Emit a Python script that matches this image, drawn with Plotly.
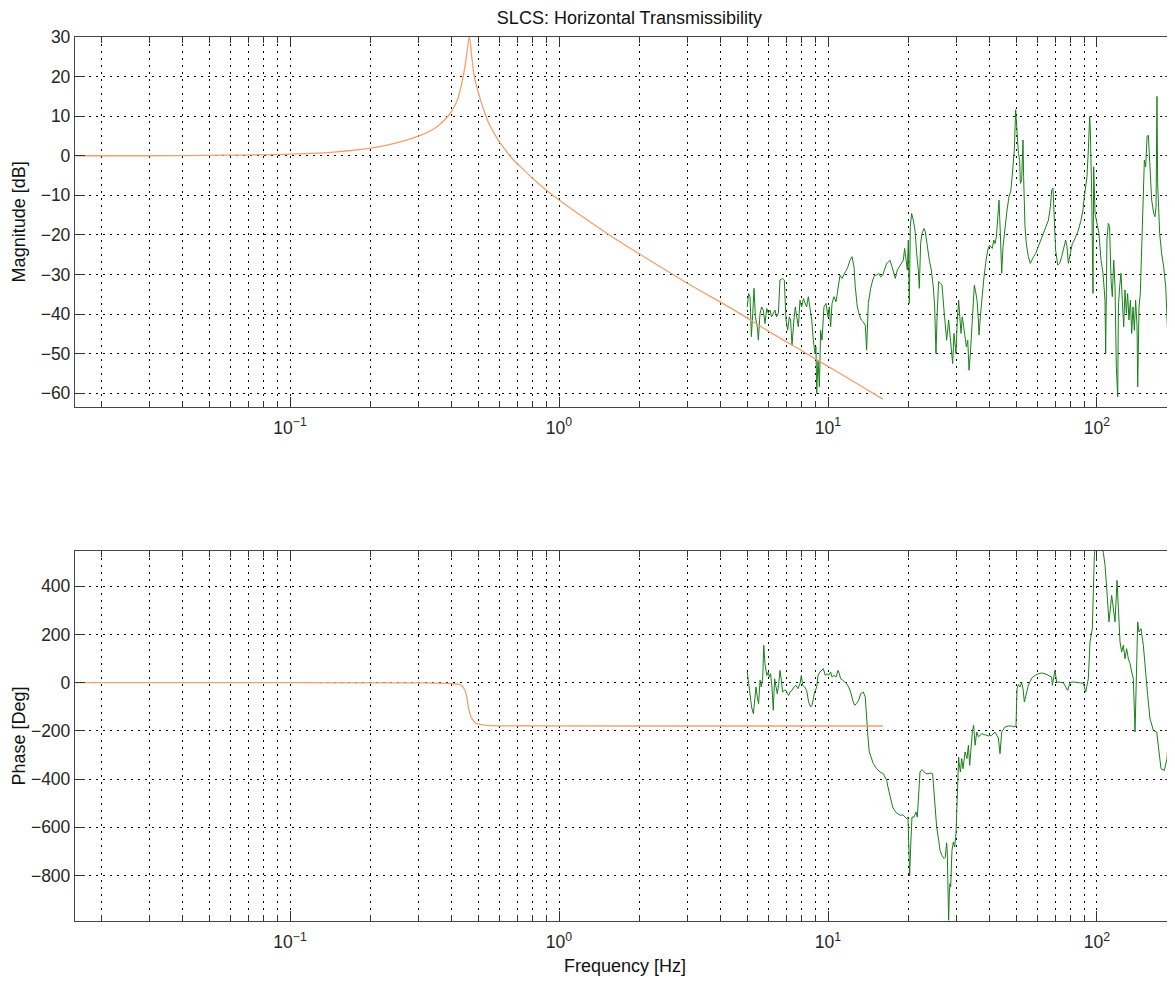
import plotly.graph_objects as go

# ---------------- data ----------------
# Model (orange) magnitude
model_mag_freq = [0.016, 0.03, 0.05, 0.1, 0.15, 0.216, 0.302, 0.35, 0.388, 0.405, 0.42,
                  0.435, 0.447, 0.456, 0.464, 0.474, 0.484, 0.508, 0.535, 0.55, 0.595, 0.62,
                  0.676, 0.7, 0.803, 0.9, 1.0, 1.5, 2.0, 3.0, 4.4, 6.0, 8.0, 10.0, 12.0, 16.0]
model_mag_db = [0.0, 0.0, 0.1, 0.4, 1.0, 2.3, 5.0, 7.2, 10.1, 12.0, 14.3,
                18.3, 22.5, 26.7, 30.0, 25.0, 20.1, 14.6, 10.0, 8.0, 3.9, 2.2,
                -1.0, -2.0, -5.9, -8.8, -11.2, -19.5, -24.9, -32.2, -38.7, -44.3, -49.3, -53.2, -56.4, -61.5]

# Model (orange) phase
model_ph_freq = [0.016, 0.1, 0.2, 0.3, 0.38, 0.42, 0.435, 0.447, 0.455, 0.46, 0.467,
                 0.474, 0.485, 0.494, 0.52, 0.554, 0.8, 2.0, 16.0]
model_ph_deg = [0, -0.3, -0.6, -1, -3, -6, -12, -32, -65, -101, -130,
                -149, -163, -170, -175, -178, -179, -180, -180]

# Measured (green) magnitude
meas_mag_freq = [5.01, 5.07, 5.13, 5.19, 5.25, 5.31, 5.37, 5.46, 5.51, 5.59, 5.67, 5.75, 5.83,
                 5.92, 6.00, 6.09, 6.17, 6.26, 6.35, 6.44, 6.54, 6.63, 6.78, 6.88, 6.98, 7.08,
                 7.18, 7.26, 7.35, 7.47, 7.56, 7.65, 7.76, 7.87, 7.98, 8.10, 8.21, 8.33, 8.45,
                 8.57, 8.70, 8.82, 8.95, 9.02, 9.08, 9.18, 9.29, 9.39, 9.50, 9.66, 9.83, 10.0,
                 10.11, 10.23, 10.35, 10.53, 10.71, 10.83, 10.96, 11.08, 11.27, 11.40, 11.60,
                 11.80, 12.07, 12.28, 12.49, 12.63, 12.85, 13.08, 13.30, 13.53, 13.76, 13.92,
                 14.12, 14.41, 14.66, 14.91, 15.17, 15.43, 15.69, 15.97, 16.24, 16.52, 16.81,
                 17.00, 17.29, 17.59, 17.79, 18.10, 18.41, 18.73, 19.06, 19.27, 19.49, 19.72,
                 19.89, 20.06, 20.23, 20.46, 20.76, 21.06, 21.36, 21.67, 21.85, 22.10, 22.36,
                 22.74, 23.00, 23.40, 23.81, 24.22, 24.63, 24.92, 25.20, 25.49, 25.79, 26.23,
                 26.53, 26.99, 27.30, 27.61, 28.09, 28.41, 28.74, 29.07, 29.40, 29.91, 30.25,
                 30.60, 31.22, 31.56, 31.94, 32.32, 32.70, 33.08, 33.45, 33.83, 34.21, 34.60,
                 35.00, 35.40, 35.81, 36.23, 36.43, 36.84, 37.30, 37.91, 38.56, 39.23, 39.88,
                 40.38, 40.82, 41.33, 41.77, 42.27, 42.71, 43.22, 43.72, 44.23, 44.73, 45.49,
                 46.31, 47.06, 47.88, 48.70, 49.28, 49.85, 50.43, 51.03, 51.60, 51.89, 52.48,
                 53.08, 53.36, 53.99, 54.62, 55.57, 56.52, 57.20, 58.16, 59.16, 60.54, 61.93,
                 63.38, 64.83, 65.96, 67.10, 67.85, 68.61, 69.43, 70.18, 71.44, 72.64, 73.90,
                 75.16, 76.48, 77.36, 78.25, 79.57, 80.96, 82.40, 83.79, 85.24, 87.19, 88.70,
                 89.71, 90.78, 91.79, 92.86, 93.93, 94.44, 95.57, 96.64, 97.21, 98.34, 100.0,
                 101.7, 103.5, 105.3, 107.1, 107.7, 108.9, 110.2, 111.4, 112.8, 114.0, 115.4,
                 116.7, 118.0, 119.4, 120.1, 121.4, 122.8, 124.2, 125.7, 127.1, 128.6, 130.0,
                 131.5, 133.1, 134.6, 136.1, 137.7, 139.2, 140.9, 141.7, 143.3, 144.9, 146.6,
                 148.3, 150.0, 151.7, 153.5, 155.2, 157.0, 159.7, 162.5, 164.3, 165.8, 167.1,
                 168.1, 171.0, 173.9, 177.0, 180.1, 182.1, 184.2, 186.3, 189.5, 192.8, 195.0]
meas_mag_db = [-38.2, -34.8, -35.6, -45.7, -39.8, -33.5, -40.7, -43.2, -46.6, -39.8, -38.2, -39.0, -42.4,
               -38.6, -39.8, -39.0, -40.7, -39.8, -39.0, -40.7, -39.8, -31.4, -31.0, -31.4, -41.5, -44.1,
               -40.7, -41.5, -47.9, -41.5, -38.2, -40.7, -43.2, -36.5, -38.2, -36.1, -37.3, -38.2, -35.6,
               -38.2, -41.5, -46.6, -50.0, -48.3, -60.1, -51.6, -58.4, -44.1, -46.6, -38.2, -37.3, -40.7,
               -38.2, -43.2, -37.3, -35.6, -36.9, -34.8, -32.3, -30.2, -31.0, -30.2, -29.3,
               -28.5, -26.4, -25.5, -28.0, -33.1, -38.2, -40.3, -41.5, -42.0, -42.8, -49.1,
               -37.3, -33.5, -31.4, -30.2, -30.2, -29.7, -30.6, -30.2, -28.5, -27.2, -26.8,
               -26.4, -28.0, -29.7, -31.0, -28.9, -28.0, -27.2, -26.4, -23.4, -26.4, -28.9,
               -21.3, -37.3, -17.9, -14.6, -16.3, -18.8, -24.7, -28.9, -33.5, -22.1, -19.6,
               -18.4, -19.2, -23.0, -26.4, -28.9, -33.1, -38.2, -50.0, -39.0, -31.8, -32.3,
               -32.7, -39.0, -42.4, -46.6, -41.5, -45.7, -48.3, -52.5, -44.9, -50.0, -41.5,
               -36.5, -44.9, -40.7, -43.2, -46.6, -48.3, -46.6, -54.2, -49.9, -44.9, -38.2,
               -32.7, -34.4, -36.5, -41.5, -45.3, -40.7, -35.6, -31.4, -27.2, -23.8, -22.6,
               -23.0, -23.4, -21.3, -22.2, -20.5, -16.3, -11.2, -19.6, -29.7, -23.0, -17.9,
               -13.7, -10.4, -8.7, -2.8, 1.4, 11.6, 5.7, 0.6, -1.1, -7.0, -6.1,
               4.0, -5.3, -17.9, -22.2, -25.5, -27.2, -26.4, -25.5, -24.7, -23.0, -21.3,
               -19.2, -17.9, -16.3, -12.9, -8.7, -8.2, -19.6, -23.8, -27.6, -27.2, -25.5,
               -23.0, -21.3, -23.0, -27.2, -24.7, -22.2, -21.3, -20.0, -18.8, -16.3, -13.7,
               -10.4, -7.0, -5.3, 1.4, 9.9, 6.5, -9.5, -34.8, -2.8, -14.6, -17.1,
               -19.6, -26.4, -29.7, -36.5, -49.9, -21.3, -17.1, -17.9, -31.4, -35.6, -26.4,
               -33.1, -53.3, -60.9, -38.2, -33.1, -29.7, -36.5, -43.2, -33.9, -39.8, -34.8,
               -41.5, -36.5, -44.9, -38.2, -44.1, -36.5, -43.2, -58.4, -38.2, -34.8, -24.7,
               -15.4, -1.1, -2.8, 4.8, 5.2, -2.8, -11.2, -14.6, -15.4, -12.9, 15.0,
               -7.0, -19.6, -24.7, -28.1, -33.1, -40.7, -49.1, -49.9, -48.3, -49.9, -60.1]

# Measured (green) phase
meas_ph_freq = [5.01, 5.07, 5.13, 5.20, 5.28, 5.34, 5.40, 5.46, 5.52, 5.59, 5.65, 5.72, 5.77, 5.83,
                5.92, 6.00, 6.05, 6.12, 6.19, 6.26, 6.33, 6.41, 6.48, 6.56, 6.63, 6.71, 6.78, 6.88,
                6.98, 7.06, 7.14, 7.22, 7.35, 7.47, 7.60, 7.73, 7.87, 7.96, 8.05, 8.19, 8.33, 8.47,
                8.62, 8.72, 8.82, 8.92, 9.08, 9.18, 9.34, 9.50, 9.61, 9.77, 9.94, 10.06, 10.23,
                10.35, 10.53, 10.71, 10.89, 11.02, 11.14, 11.34, 11.53, 11.73, 11.93, 12.14, 12.35,
                12.56, 12.78, 13.00, 13.23, 13.53, 13.76, 13.92, 14.08, 14.24, 14.49, 14.74, 15.17,
                15.61, 16.06, 16.34, 16.52, 16.71, 16.90, 17.10, 17.39, 17.69, 18.00, 18.31, 18.63,
                18.95, 19.27, 19.61, 19.83, 20.00, 20.12, 20.29, 20.52, 20.88, 21.24, 21.48, 21.73,
                21.98, 22.36, 22.74, 23.14, 23.54, 24.08, 24.49, 24.78, 25.06, 25.35, 25.79, 26.08,
                26.53, 26.99, 27.30, 27.61, 27.77, 27.93, 28.09, 28.25, 28.41, 28.58, 28.74, 28.90,
                29.24, 29.57, 29.91, 30.25, 30.60, 30.69, 31.05, 31.40, 31.76, 32.32, 32.87, 33.26,
                33.64, 34.02, 34.40, 34.78, 35.22, 35.72, 36.23, 37.30, 38.37, 39.44, 40.57, 41.77,
                42.98, 43.60, 44.23, 45.49, 46.82, 48.20, 49.58, 50.00, 50.43, 51.03, 51.72, 52.48,
                53.08, 53.69, 54.81, 55.57, 57.20, 58.84, 60.54, 62.28, 64.09, 65.96, 67.85, 68.23,
                69.05, 69.80, 70.82, 72.86, 74.97, 77.81, 79.38, 81.67, 84.04, 86.47, 88.96, 90.78,
                91.79, 92.86, 94.20, 96.10, 97.76, 98.85, 101.2, 104.1, 105.6, 107.1, 108.6, 110.8,
                113.4, 115.4, 116.7, 118.7, 120.1, 121.8, 123.5, 125.3, 127.1, 128.9, 130.8, 132.7,
                134.6, 136.5, 138.5, 140.5, 141.7, 143.3, 145.8, 148.7, 151.7, 154.3, 157.4, 162.0,
                166.7, 170.0, 173.0, 178.0, 182.1, 184.2, 186.8, 190.6, 195.0]
meas_ph_deg = [44, -4, -60, -101, -129, -73, -18, -60, -87, 10, -18, 23, 155, 79,
               30, 44, 23, 37, -18, -115, 16, -18, -46, -4, 51, 10, -39, -32,
               -32, -46, -53, -39, -32, -18, -11, -25, -4, 30, -11, -18, -32, -80,
               -101, -94, -60, -39, -18, 30, 44, 51, 58, 30, 37, 30, 44,
               23, 30, 23, 51, 37, 16, 10, 3, -4, -18, -39, -73,
               -94, -87, -73, -46, -39, -60, -156, -226, -288, -315, -336, -357,
               -371, -378, -392, -405, -433, -461, -488, -516, -530, -541, -546, -551,
               -548, -558, -564, -558, -710, -800, -682, -558, -558, -537, -558, -461,
               -371, -361, -371, -378, -378, -375, -378, -461, -544, -599, -654, -696,
               -717, -730, -724, -665, -710, -807, -986, -876, -834, -848, -765, -696,
               -661, -682, -627, -488, -309, -329, -371, -315, -357, -288, -315, -260,
               -343, -246, -205, -177, -260, -205, -225, -212, -216, -221, -219, -205,
               -230, -295, -205, -184, -180, -180, -184, -177, -25, -8, -18, 0,
               -25, -80, -39, -11, 19, 30, 37, 40, 37, 30, 23, -11,
               16, 51, 3, 3, 0, -32, 0, 3, 0, 0, -3, -39,
               -11, 16, 169, 224, 528, 580, 580, 580, 539, 487, 397, 252,
               362, 293, 252, 424, 321, 169, 127, 155, 99, 141, 99, 79,
               44, 16, -205, 155, 252, 210, 224, 155, 30, -53, -149, -198,
               -205, -302, -357, -364, -315, -219, -343, -343, -232]

# Axis ticks
decade_vals = [0.1, 1, 10, 100]
decade_text = ["10<sup>\u22121</sup>", "10<sup>0</sup>", "10<sup>1</sup>", "10<sup>2</sup>"]
minor_vals = [m * d for d in [0.01, 0.1, 1, 10, 100] for m in range(2, 10)]
mag_ticks = [-60, -50, -40, -30, -20, -10, 0, 10, 20, 30]
phase_ticks = [-800, -600, -400, -200, 0, 200, 400]

ORANGE = "rgb(242,160,110)"
GREEN = "rgb(25,128,25)"
FONT = "Liberation Sans, Arial, sans-serif"
TXT = "#262626"
GRIDDASH = "2px,5px"
TICKFONT = dict(family=FONT, size=17.5, color=TXT)
TITLEFONT = dict(family=FONT, size=18, color="#111")

fig = go.Figure()
fig.add_trace(go.Scatter(x=meas_mag_freq, y=meas_mag_db, mode="lines",
                         line=dict(color=GREEN, width=1), xaxis="x", yaxis="y"))
fig.add_trace(go.Scatter(x=model_mag_freq, y=model_mag_db, mode="lines", line_shape="spline",
                         line=dict(color=ORANGE, width=1.3), xaxis="x", yaxis="y"))
fig.add_trace(go.Scatter(x=meas_ph_freq, y=meas_ph_deg, mode="lines",
                         line=dict(color=GREEN, width=1), xaxis="x2", yaxis="y2"))
fig.add_trace(go.Scatter(x=model_ph_freq, y=model_ph_deg, mode="lines", line_shape="spline",
                         line=dict(color=ORANGE, width=1.3), xaxis="x2", yaxis="y2"))

xcommon = dict(type="log", range=[-1.7993, 2.29], tickmode="array", tickvals=decade_vals,
               ticktext=decade_text, ticks="inside", ticklen=10, tickcolor="#333",
               showline=True, linecolor="#444", linewidth=1.3, mirror="allticks",
               showgrid=True, gridcolor="black", gridwidth=1, griddash=GRIDDASH,
               zeroline=False, tickfont=TICKFONT, automargin=False, ticklabelstandoff=5,
               minor=dict(tickmode="array", tickvals=minor_vals, ticks="inside", ticklen=6,
                          tickcolor="#333", showgrid=True, gridcolor="black", gridwidth=1,
                          griddash=GRIDDASH))
ycommon = dict(ticks="inside", ticklen=10, tickcolor="#333", showline=True, linecolor="#444",
               linewidth=1.3, mirror="allticks", showgrid=True, gridcolor="black", gridwidth=1,
               griddash=GRIDDASH, zeroline=False, tickfont=TICKFONT, automargin=False,
               tickmode="array")

# The page body adds an 8 px offset; margins are chosen so the plot boxes land
# where the reference has them.
fig.update_layout(
    width=1175, height=981,
    margin=dict(l=67, r=8, t=29, b=68),
    paper_bgcolor="white", plot_bgcolor="white",
    showlegend=False,
    font=dict(family=FONT, size=17, color=TXT),
    title=dict(text="SLCS: Horizontal Transmissibility", xref="paper", x=0.504, xanchor="center",
               yref="container", y=0.9905, yanchor="middle", automargin=False,
               font=dict(family=FONT, size=18, color="#111")),
    xaxis=dict(domain=[0, 1], anchor="y", **xcommon),
    yaxis=dict(domain=[0.5818, 1], anchor="x", range=[-63.4, 30], tickvals=mag_ticks,
               title=dict(text="Magnitude [dB]", font=TITLEFONT, standoff=10),
               **ycommon),
    xaxis2=dict(domain=[0, 1], anchor="y2",
                title=dict(text="Frequency [Hz]", font=TITLEFONT, standoff=8),
                **xcommon),
    yaxis2=dict(domain=[0, 0.4185], anchor="x2", range=[-989, 546], tickvals=phase_ticks,
                **ycommon),
)

fig.add_annotation(text="Phase [Deg]", textangle=-90, xref="paper", yref="y2 domain",
                   x=-0.0505, y=0.5, xanchor="center", yanchor="middle", showarrow=False,
                   font=TITLEFONT)

fig.write_html("out.html")
